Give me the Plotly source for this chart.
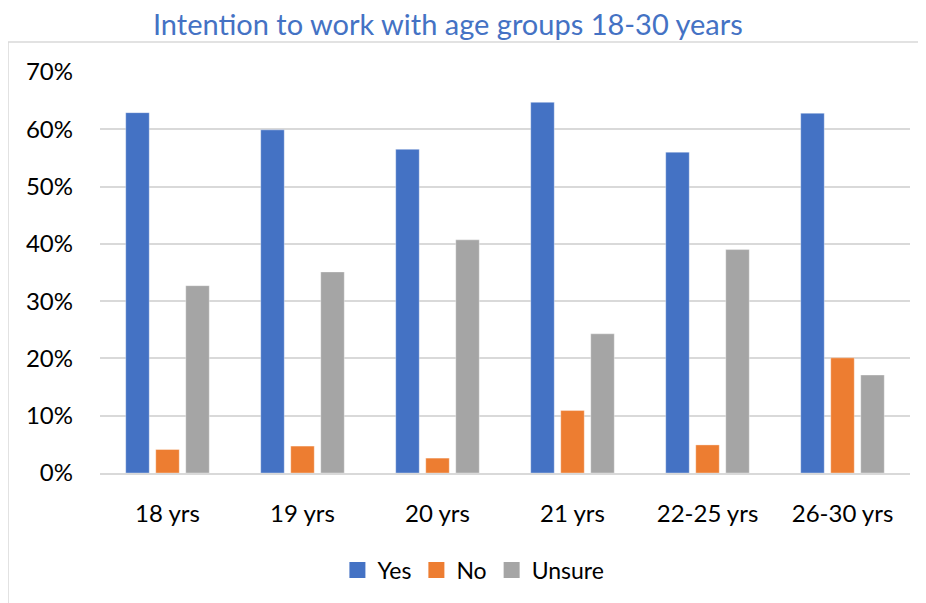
import plotly.graph_objects as go

categories = ["18 yrs", "19 yrs", "20 yrs", "21 yrs", "22-25 yrs", "26-30 yrs"]
yes_vals = [0.629, 0.599, 0.565, 0.647, 0.560, 0.628]
no_vals = [0.041, 0.047, 0.026, 0.109, 0.049, 0.201]
unsure_vals = [0.327, 0.351, 0.407, 0.243, 0.390, 0.171]

series = [("Yes", yes_vals, "#4472C4"), ("No", no_vals, "#ED7D31"), ("Unsure", unsure_vals, "#A5A5A5")]

FONT = "Lato, 'Open Sans', sans-serif"

fig = go.Figure()
for name, vals, color in series:
    fig.add_trace(go.Bar(
        x=categories, y=vals, name=name, showlegend=False,
        marker=dict(color=color, line=dict(color="rgba(255,255,255,0.35)", width=1)),
    ))
# legend entries with larger square swatches
for name, vals, color in series:
    fig.add_trace(go.Scatter(
        x=[None], y=[None], name=name, mode="markers",
        marker=dict(symbol="square", size=16, color=color),
    ))

fig.update_layout(
    width=926, height=603,
    margin=dict(l=92, r=24, t=64, b=138),
    paper_bgcolor="white", plot_bgcolor="white",
    barmode="group", bargap=0.333, bargroupgap=0.217,
    font=dict(family=FONT, color="#000000"),
    title=dict(text="Intention to work with age groups 18-30 years",
               x=0.475, xanchor="center", y=0.9725, yanchor="middle",
               font=dict(family=FONT, size=29, color="#4472C4")),
    legend=dict(orientation="h", x=0.461, xanchor="center", y=-0.242, yanchor="middle",
                font=dict(family=FONT, size=23), itemwidth=30, traceorder="normal"),
    showlegend=True,
)
fig.update_yaxes(range=[0, 0.7], dtick=0.1, tickformat=".0%", showgrid=True,
                 gridcolor="#D9D9D9", gridwidth=1.5, zeroline=False, showline=False,
                 ticks="", tickfont=dict(family=FONT, size=24), ticklabelstandoff=26)
fig.update_xaxes(showline=True, linecolor="#D9D9D9", linewidth=1.5, ticks="",
                 tickfont=dict(family=FONT, size=24), ticklabelstandoff=18)
fig.add_shape(type="rect", xref="paper", yref="paper",
              x0=-92/810, x1=1.1, y0=-0.5, y1=(465-34)/401,
              line=dict(color="#D9D9D9", width=1.5), fillcolor="rgba(0,0,0,0)", layer="below")

fig.write_html("out.html")
